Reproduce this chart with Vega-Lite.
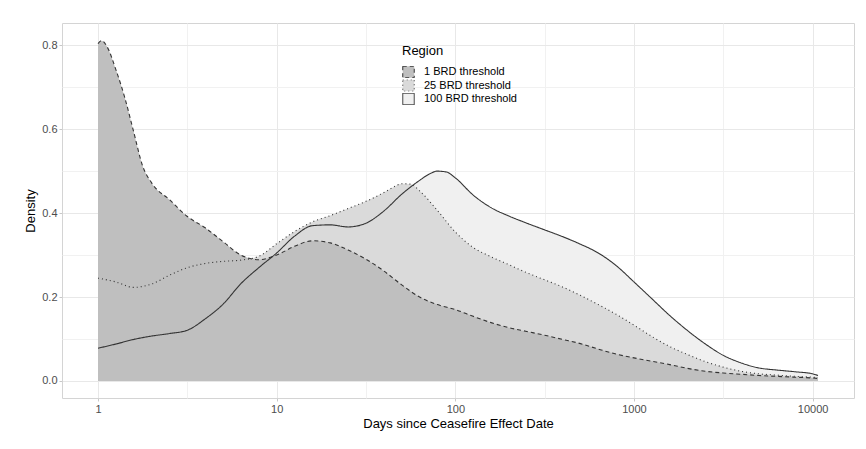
{
  "$schema": "https://vega.github.io/schema/vega-lite/v6.json",
  "width": 792,
  "height": 375,
  "autosize": {"type": "none"},
  "padding": {"left": 62, "top": 23, "right": 12, "bottom": 51},
  "background": "white",
  "data": {"values": [
    {"region": "100 BRD threshold", "days": 1, "density": 0.078},
    {"region": "100 BRD threshold", "days": 1.2589, "density": 0.088},
    {"region": "100 BRD threshold", "days": 1.5849, "density": 0.099},
    {"region": "100 BRD threshold", "days": 1.9953, "density": 0.107},
    {"region": "100 BRD threshold", "days": 2.5119, "density": 0.113},
    {"region": "100 BRD threshold", "days": 3.1623, "density": 0.121},
    {"region": "100 BRD threshold", "days": 3.9811, "density": 0.148},
    {"region": "100 BRD threshold", "days": 5.0119, "density": 0.183},
    {"region": "100 BRD threshold", "days": 6.3096, "density": 0.232},
    {"region": "100 BRD threshold", "days": 7.9433, "density": 0.27},
    {"region": "100 BRD threshold", "days": 10, "density": 0.305},
    {"region": "100 BRD threshold", "days": 12.589, "density": 0.345},
    {"region": "100 BRD threshold", "days": 15.849, "density": 0.37},
    {"region": "100 BRD threshold", "days": 19.953, "density": 0.372},
    {"region": "100 BRD threshold", "days": 25.119, "density": 0.367},
    {"region": "100 BRD threshold", "days": 31.623, "density": 0.376},
    {"region": "100 BRD threshold", "days": 39.811, "density": 0.405},
    {"region": "100 BRD threshold", "days": 50.119, "density": 0.445},
    {"region": "100 BRD threshold", "days": 63.096, "density": 0.478},
    {"region": "100 BRD threshold", "days": 70.795, "density": 0.492},
    {"region": "100 BRD threshold", "days": 79.433, "density": 0.5},
    {"region": "100 BRD threshold", "days": 89.125, "density": 0.498},
    {"region": "100 BRD threshold", "days": 100, "density": 0.484},
    {"region": "100 BRD threshold", "days": 125.89, "density": 0.443},
    {"region": "100 BRD threshold", "days": 158.49, "density": 0.413},
    {"region": "100 BRD threshold", "days": 199.53, "density": 0.393},
    {"region": "100 BRD threshold", "days": 251.19, "density": 0.376},
    {"region": "100 BRD threshold", "days": 316.23, "density": 0.36},
    {"region": "100 BRD threshold", "days": 398.11, "density": 0.344},
    {"region": "100 BRD threshold", "days": 501.19, "density": 0.326},
    {"region": "100 BRD threshold", "days": 630.96, "density": 0.305},
    {"region": "100 BRD threshold", "days": 794.33, "density": 0.275},
    {"region": "100 BRD threshold", "days": 1000, "density": 0.236},
    {"region": "100 BRD threshold", "days": 1258.9, "density": 0.196},
    {"region": "100 BRD threshold", "days": 1584.9, "density": 0.156},
    {"region": "100 BRD threshold", "days": 1995.3, "density": 0.12},
    {"region": "100 BRD threshold", "days": 2511.9, "density": 0.088},
    {"region": "100 BRD threshold", "days": 3162.3, "density": 0.061},
    {"region": "100 BRD threshold", "days": 3981.1, "density": 0.043},
    {"region": "100 BRD threshold", "days": 5011.9, "density": 0.031},
    {"region": "100 BRD threshold", "days": 6309.6, "density": 0.026},
    {"region": "100 BRD threshold", "days": 7943.3, "density": 0.022},
    {"region": "100 BRD threshold", "days": 10000, "density": 0.017},
    {"region": "100 BRD threshold", "days": 10715, "density": 0.013},

    {"region": "25 BRD threshold", "days": 1, "density": 0.245},
    {"region": "25 BRD threshold", "days": 1.2589, "density": 0.236},
    {"region": "25 BRD threshold", "days": 1.5849, "density": 0.223},
    {"region": "25 BRD threshold", "days": 1.9953, "density": 0.231},
    {"region": "25 BRD threshold", "days": 2.5119, "density": 0.252},
    {"region": "25 BRD threshold", "days": 3.1623, "density": 0.27},
    {"region": "25 BRD threshold", "days": 3.9811, "density": 0.28},
    {"region": "25 BRD threshold", "days": 5.0119, "density": 0.285},
    {"region": "25 BRD threshold", "days": 6.3096, "density": 0.288},
    {"region": "25 BRD threshold", "days": 7.9433, "density": 0.297},
    {"region": "25 BRD threshold", "days": 10, "density": 0.327},
    {"region": "25 BRD threshold", "days": 12.589, "density": 0.356},
    {"region": "25 BRD threshold", "days": 15.849, "density": 0.379},
    {"region": "25 BRD threshold", "days": 19.953, "density": 0.394},
    {"region": "25 BRD threshold", "days": 25.119, "density": 0.411},
    {"region": "25 BRD threshold", "days": 31.623, "density": 0.428},
    {"region": "25 BRD threshold", "days": 39.811, "density": 0.449},
    {"region": "25 BRD threshold", "days": 44.668, "density": 0.461},
    {"region": "25 BRD threshold", "days": 50.119, "density": 0.47},
    {"region": "25 BRD threshold", "days": 56.234, "density": 0.469},
    {"region": "25 BRD threshold", "days": 63.096, "density": 0.453},
    {"region": "25 BRD threshold", "days": 79.433, "density": 0.406},
    {"region": "25 BRD threshold", "days": 100, "density": 0.355},
    {"region": "25 BRD threshold", "days": 125.89, "density": 0.318},
    {"region": "25 BRD threshold", "days": 158.49, "density": 0.296},
    {"region": "25 BRD threshold", "days": 199.53, "density": 0.277},
    {"region": "25 BRD threshold", "days": 251.19, "density": 0.258},
    {"region": "25 BRD threshold", "days": 316.23, "density": 0.241},
    {"region": "25 BRD threshold", "days": 398.11, "density": 0.224},
    {"region": "25 BRD threshold", "days": 501.19, "density": 0.204},
    {"region": "25 BRD threshold", "days": 630.96, "density": 0.182},
    {"region": "25 BRD threshold", "days": 794.33, "density": 0.159},
    {"region": "25 BRD threshold", "days": 1000, "density": 0.133},
    {"region": "25 BRD threshold", "days": 1258.9, "density": 0.106},
    {"region": "25 BRD threshold", "days": 1584.9, "density": 0.082},
    {"region": "25 BRD threshold", "days": 1995.3, "density": 0.063},
    {"region": "25 BRD threshold", "days": 2511.9, "density": 0.046},
    {"region": "25 BRD threshold", "days": 3162.3, "density": 0.033},
    {"region": "25 BRD threshold", "days": 3981.1, "density": 0.023},
    {"region": "25 BRD threshold", "days": 5011.9, "density": 0.017},
    {"region": "25 BRD threshold", "days": 6309.6, "density": 0.014},
    {"region": "25 BRD threshold", "days": 7943.3, "density": 0.011},
    {"region": "25 BRD threshold", "days": 10000, "density": 0.009},
    {"region": "25 BRD threshold", "days": 10715, "density": 0.008},

    {"region": "1 BRD threshold", "days": 1, "density": 0.804},
    {"region": "1 BRD threshold", "days": 1.0471, "density": 0.811},
    {"region": "1 BRD threshold", "days": 1.122, "density": 0.797},
    {"region": "1 BRD threshold", "days": 1.2589, "density": 0.742},
    {"region": "1 BRD threshold", "days": 1.4125, "density": 0.675},
    {"region": "1 BRD threshold", "days": 1.5849, "density": 0.593},
    {"region": "1 BRD threshold", "days": 1.7783, "density": 0.512},
    {"region": "1 BRD threshold", "days": 1.9953, "density": 0.472},
    {"region": "1 BRD threshold", "days": 2.5119, "density": 0.432},
    {"region": "1 BRD threshold", "days": 3.1623, "density": 0.392},
    {"region": "1 BRD threshold", "days": 3.9811, "density": 0.365},
    {"region": "1 BRD threshold", "days": 5.0119, "density": 0.332},
    {"region": "1 BRD threshold", "days": 6.3096, "density": 0.3},
    {"region": "1 BRD threshold", "days": 7.9433, "density": 0.289},
    {"region": "1 BRD threshold", "days": 10, "density": 0.3},
    {"region": "1 BRD threshold", "days": 12.589, "density": 0.321},
    {"region": "1 BRD threshold", "days": 15.849, "density": 0.334},
    {"region": "1 BRD threshold", "days": 19.953, "density": 0.329},
    {"region": "1 BRD threshold", "days": 25.119, "density": 0.312},
    {"region": "1 BRD threshold", "days": 31.623, "density": 0.29},
    {"region": "1 BRD threshold", "days": 39.811, "density": 0.262},
    {"region": "1 BRD threshold", "days": 50.119, "density": 0.229},
    {"region": "1 BRD threshold", "days": 63.096, "density": 0.2},
    {"region": "1 BRD threshold", "days": 79.433, "density": 0.182},
    {"region": "1 BRD threshold", "days": 100, "density": 0.17},
    {"region": "1 BRD threshold", "days": 125.89, "density": 0.154},
    {"region": "1 BRD threshold", "days": 158.49, "density": 0.139},
    {"region": "1 BRD threshold", "days": 199.53, "density": 0.127},
    {"region": "1 BRD threshold", "days": 251.19, "density": 0.118},
    {"region": "1 BRD threshold", "days": 316.23, "density": 0.109},
    {"region": "1 BRD threshold", "days": 398.11, "density": 0.099},
    {"region": "1 BRD threshold", "days": 501.19, "density": 0.089},
    {"region": "1 BRD threshold", "days": 630.96, "density": 0.076},
    {"region": "1 BRD threshold", "days": 794.33, "density": 0.064},
    {"region": "1 BRD threshold", "days": 1000, "density": 0.055},
    {"region": "1 BRD threshold", "days": 1258.9, "density": 0.047},
    {"region": "1 BRD threshold", "days": 1584.9, "density": 0.039},
    {"region": "1 BRD threshold", "days": 1995.3, "density": 0.03},
    {"region": "1 BRD threshold", "days": 2511.9, "density": 0.023},
    {"region": "1 BRD threshold", "days": 3162.3, "density": 0.019},
    {"region": "1 BRD threshold", "days": 3981.1, "density": 0.016},
    {"region": "1 BRD threshold", "days": 5011.9, "density": 0.013},
    {"region": "1 BRD threshold", "days": 6309.6, "density": 0.011},
    {"region": "1 BRD threshold", "days": 7943.3, "density": 0.009},
    {"region": "1 BRD threshold", "days": 10000, "density": 0.007},
    {"region": "1 BRD threshold", "days": 10715, "density": 0.006}
  ]},
  "encoding": {
    "x": {
      "field": "days", "type": "quantitative",
      "scale": {"type": "log", "domain": [0.6287, 17044], "nice": false},
      "axis": {
        "title": "Days since Ceasefire Effect Date",
        "values": [1, 3.1623, 10, 31.623, 100, 316.23, 1000, 3162.3, 10000],
        "labelExpr": "indexof([1,10,100,1000,10000], datum.value) >= 0 ? datum.value + '' : ''",
        "tickOpacity": {"condition": {"test": "indexof([1,10,100,1000,10000], datum.value) >= 0", "value": 1}, "value": 0},
        "gridColor": {"condition": {"test": "indexof([1,10,100,1000,10000], datum.value) >= 0", "value": "#e8e8e8"}, "value": "#f1f1f1"},
        "labelFlush": false
      }
    },
    "y": {
      "field": "density", "type": "quantitative", "stack": null,
      "scale": {"domain": [-0.0406, 0.853], "nice": false, "zero": false},
      "axis": {
        "title": "Density",
        "values": [0, 0.1, 0.2, 0.3, 0.4, 0.5, 0.6, 0.7, 0.8],
        "labelExpr": "indexof([0,0.2,0.4,0.6,0.8], datum.value) >= 0 ? format(datum.value, '.1f') : ''",
        "tickOpacity": {"condition": {"test": "indexof([0,0.2,0.4,0.6,0.8], datum.value) >= 0", "value": 1}, "value": 0},
        "gridColor": {"condition": {"test": "indexof([0,0.2,0.4,0.6,0.8], datum.value) >= 0", "value": "#e8e8e8"}, "value": "#f1f1f1"}
      }
    }
  },
  "layer": [
    {
      "mark": {"type": "area", "interpolate": "monotone"},
      "encoding": {
        "fill": {
          "field": "region", "type": "nominal",
          "scale": {"domain": ["1 BRD threshold", "25 BRD threshold", "100 BRD threshold"], "range": ["#bfbfbf", "#dadada", "#f0f0f0"]},
          "legend": {"title": "Region"}
        },
        "strokeDash": {
          "field": "region", "type": "nominal",
          "scale": {"domain": ["1 BRD threshold", "25 BRD threshold", "100 BRD threshold"], "range": [[4, 3], [1, 3], [1, 0]]},
          "legend": {"title": "Region"}
        }
      }
    },
    {
      "mark": {"type": "line", "interpolate": "monotone", "color": "#333333", "strokeWidth": 1.1},
      "encoding": {
        "strokeDash": {
          "field": "region", "type": "nominal",
          "scale": {"domain": ["1 BRD threshold", "25 BRD threshold", "100 BRD threshold"], "range": [[4, 3], [1, 3], [1, 0]]},
          "legend": {"title": "Region"}
        }
      }
    }
  ],
  "config": {
    "font": "Liberation Sans",
    "view": {"stroke": "#d4d4d4", "strokeWidth": 1},
    "axis": {
      "domain": false,
      "grid": true,
      "gridWidth": 1,
      "tickColor": "#c8c8c8",
      "tickSize": 3,
      "labelFont": "Liberation Sans",
      "labelFontSize": 11,
      "labelColor": "#4d4d4d",
      "labelPadding": 2,
      "titleFont": "Liberation Sans",
      "titleFontSize": 13,
      "titleFontWeight": "normal",
      "titleColor": "#000000"
    },
    "axisX": {"titlePadding": 3},
    "axisY": {"titlePadding": 4},
    "legend": {
      "orient": "none",
      "legendX": 340,
      "legendY": 22,
      "padding": 0,
      "titleFont": "Liberation Sans",
      "titleFontSize": 13,
      "titleFontWeight": "normal",
      "titleColor": "#000000",
      "titlePadding": 8,
      "labelFont": "Liberation Sans",
      "labelFontSize": 11,
      "labelColor": "#000000",
      "labelOffset": 9,
      "symbolType": "square",
      "symbolSize": 132,
      "symbolStrokeColor": "#333333",
      "symbolStrokeWidth": 1,
      "clipHeight": 12,
      "rowPadding": 1.5
    }
  }
}
